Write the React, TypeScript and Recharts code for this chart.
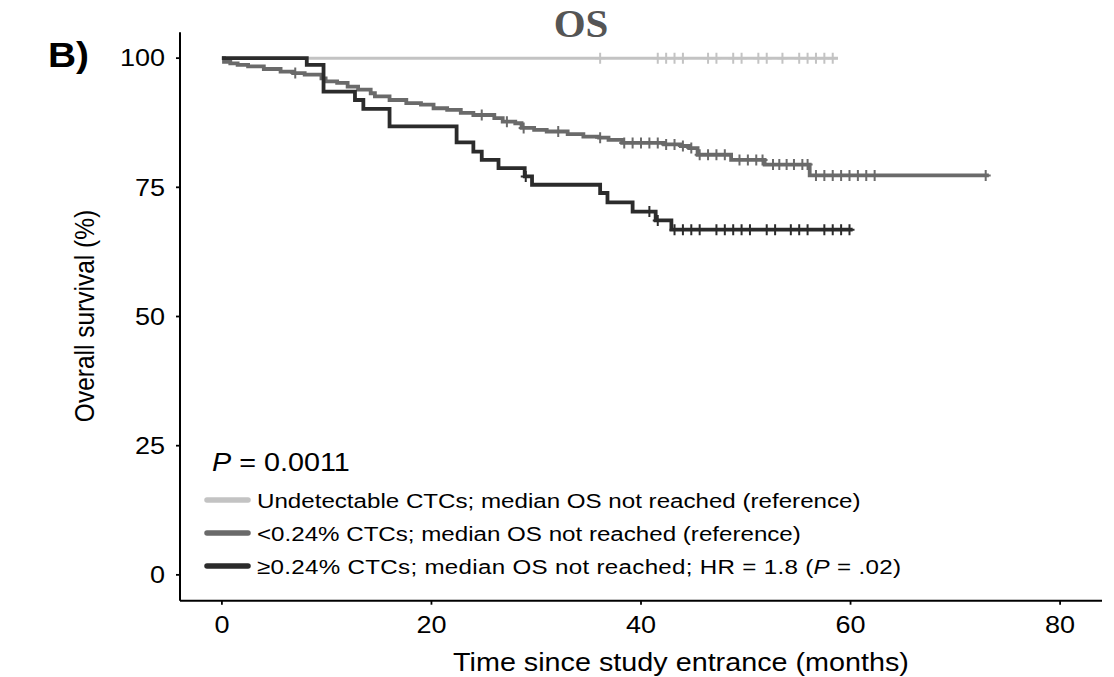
import React from 'react';
import { ComposedChart, Line, Scatter, XAxis, YAxis, Customized } from 'recharts';

if (typeof document !== 'undefined') {
  document.body.style.margin = '0';
  document.body.style.overflow = 'hidden';
}

const FONT = '"Liberation Sans", Arial, Helvetica, sans-serif';
const SX = 1.15;

const xTicks = [0, 20, 40, 60, 80];
const yTicks = [0, 25, 50, 75, 100];

const colors = { undet: '#c3c3c3', low: '#6a6a6a', high: '#2b2b2b' };

const legendLabels = [
  'Undetectable CTCs; median OS not reached (reference)',
  '<0.24% CTCs; median OS not reached (reference)',
  '≥0.24% CTCs; median OS not reached; HR = 1.8 (',
];

// Undetectable CTCs
const undetTimes = [0, 58.8];
const undetSurv = [100, 100];
const undetCensor = [36.1, 41.6, 42.4, 43.2, 44.0, 46.4, 47.2, 48.8, 49.6, 51.2, 52.0, 53.5, 55.1, 55.9, 56.7, 57.5, 58.3];

// <0.24% CTCs
const lowTimes = [0, 0.2, 0.8, 1.5, 2.5, 4.0, 5.6, 6.8, 7.9, 9.5, 9.9, 11.0, 12.0, 13.0, 14.2, 14.6, 16.0, 17.6, 19.0, 20.2, 21.5, 22.8, 24.0, 26.0, 26.8, 28.0, 28.6, 29.8, 31.0, 33.0, 34.5, 36.0, 36.9, 38.2, 42.2, 43.8, 44.6, 45.4, 48.6, 51.8, 56.1, 73.2];
const lowSurv = [100, 99.3, 99.0, 98.7, 98.4, 97.9, 97.4, 97.1, 96.8, 96.1, 95.5, 95.2, 94.5, 93.9, 93.2, 92.6, 91.9, 91.3, 91.0, 90.3, 90.0, 89.4, 89.0, 88.4, 87.7, 87.4, 86.5, 86.1, 85.8, 85.3, 84.8, 84.6, 84.2, 83.6, 83.3, 83.0, 82.6, 81.3, 80.3, 79.4, 77.3, 77.3];
const lowCensor = [7.0, 24.8, 27.2, 28.8, 32.1, 36.1, 38.4, 39.2, 40.0, 40.8, 41.6, 42.4, 43.2, 44.0, 44.8, 45.6, 46.4, 47.2, 48.0, 49.4, 50.2, 51.0, 51.6, 52.6, 53.2, 53.9, 54.6, 55.4, 55.9, 56.7, 57.5, 58.3, 59.1, 59.9, 60.7, 61.5, 62.3, 72.9];

// >=0.24% CTCs
const highTimes = [0, 8.1, 9.7, 12.7, 13.5, 16.0, 22.4, 24.0, 24.8, 26.4, 28.9, 29.6, 36.1, 36.8, 39.2, 41.4, 42.9, 60.2];
const highSurv = [100, 98.7, 93.5, 91.9, 90.2, 86.8, 83.7, 81.9, 80.3, 78.7, 77.1, 75.5, 73.9, 72.1, 70.3, 68.6, 66.8, 66.8];
const highCensor = [29.0, 40.8, 41.6, 43.2, 44.0, 44.8, 45.6, 47.2, 48.0, 48.8, 49.6, 50.4, 52.0, 52.8, 54.3, 55.1, 55.9, 57.5, 58.3, 59.1, 59.9];

const toSteps = (times: number[], surv: number[]) => times.map((t, i) => ({ t, s: surv[i] }));
const survAt = (times: number[], surv: number[], t: number) => {
  let v = surv[0];
  for (let i = 0; i < times.length; i++) if (times[i] <= t) v = surv[i];
  return v;
};
const toCensor = (times: number[], surv: number[], c: number[]) =>
  c.map((t) => ({ t, s: survAt(times, surv, t) }));

const undetData = toSteps(undetTimes, undetSurv);
const lowData = toSteps(lowTimes, lowSurv);
const highData = toSteps(highTimes, highSurv);
const undetC = toCensor(undetTimes, undetSurv, undetCensor);
const lowC = toCensor(lowTimes, lowSurv, lowCensor);
const highC = toCensor(highTimes, highSurv, highCensor);

const plus = (color: string) => (props: any) => {
  const { cx, cy } = props;
  if (cx == null || cy == null) return <g />;
  return (
    <g>
      <line x1={cx - 5} x2={cx + 5} y1={cy} y2={cy} stroke={color} strokeWidth={2} />
      <line x1={cx} x2={cx} y1={cy - 5.5} y2={cy + 5.5} stroke={color} strokeWidth={2} />
    </g>
  );
};

const XTick = (props: any) => {
  const { x, y, payload } = props;
  return (
    <text
      transform={`translate(${x},${y + 28.5}) scale(${SX},1)`}
      textAnchor="middle"
      fontFamily={FONT}
      fontSize={23.5}
      fill="#000"
    >
      {payload.value}
    </text>
  );
};

const YTick = (props: any) => {
  const { x, y, payload } = props;
  return (
    <text
      transform={`translate(${x - 11},${y + 8.3}) scale(${SX},1)`}
      textAnchor="end"
      fontFamily={FONT}
      fontSize={23.5}
      fill="#000"
    >
      {payload.value}
    </text>
  );
};

const Annotations = () => {
  const rows = [500, 533, 566];
  const keyColors = [colors.undet, colors.low, colors.high];
  return (
    <g>
      <text
        x={581}
        y={37}
        textAnchor="middle"
        fontFamily='"Liberation Serif", "Times New Roman", serif'
        fontWeight="bold"
        fontSize={41}
        fill="#555555"
      >
        OS
      </text>
      <text
        transform={`translate(48,67) scale(1.08,1)`}
        fontFamily={FONT}
        fontWeight="bold"
        fontSize={36}
        fill="#000"
      >
        B)
      </text>
      <text
        transform={`translate(94,316) rotate(-90) scale(1,${SX})`}
        textAnchor="middle"
        fontFamily={FONT}
        fontSize={24.5}
        fill="#000"
      >
        Overall survival (%)
      </text>
      <text
        transform={`translate(681,671) scale(${SX},1)`}
        textAnchor="middle"
        fontFamily={FONT}
        fontSize={25}
        fill="#000"
      >
        Time since study entrance (months)
      </text>
      <text
        transform={`translate(212,471) scale(${SX},1)`}
        fontFamily={FONT}
        fontSize={25}
        fill="#000"
      >
        <tspan fontStyle="italic">P</tspan>
        <tspan> = 0.0011</tspan>
      </text>
      {rows.map((cy, i) => (
        <g key={i}>
          <line
            x1={207}
            x2={248}
            y1={cy}
            y2={cy}
            stroke={keyColors[i]}
            strokeWidth={5.5}
            strokeLinecap="round"
          />
          {i < 2 ? (
            <text
              transform={`translate(257,${cy + 7.5}) scale(${SX},1)`}
              fontFamily={FONT}
              fontSize={21}
              fill="#000"
            >
              {legendLabels[i]}
            </text>
          ) : (
            <text
              transform={`translate(257,${cy + 7.5}) scale(${SX},1)`}
              fontFamily={FONT}
              fontSize={21}
              fill="#000"
              textLength={560}
              lengthAdjust="spacing"
            >
              <tspan>{legendLabels[2]}</tspan>
              <tspan fontStyle="italic">P</tspan>
              <tspan> = .02)</tspan>
            </text>
          )}
        </g>
      ))}
    </g>
  );
};

export default function App() {
  return (
    <div style={{ width: 1114, height: 677, background: '#fff' }}>
      <ComposedChart
        width={1114}
        height={677}
        margin={{ top: 32.3, right: 12, left: 0, bottom: 0 }}
      >
        <XAxis
          dataKey="t"
          type="number"
          domain={[-4, 84]}
          ticks={xTicks}
          allowDataOverflow
          height={76.3}
          tickSize={4}
          tickMargin={0}
          tick={<XTick />}
          axisLine={{ stroke: '#000', strokeWidth: 2 }}
          tickLine={{ stroke: '#000', strokeWidth: 1.8 }}
        />
        <YAxis
          dataKey="s"
          type="number"
          domain={[-5, 105]}
          ticks={yTicks}
          allowDataOverflow
          width={180}
          tickSize={4}
          tickMargin={0}
          tick={<YTick />}
          axisLine={{ stroke: '#000', strokeWidth: 2 }}
          tickLine={{ stroke: '#000', strokeWidth: 1.8 }}
        />
        <Line
          data={undetData}
          dataKey="s"
          type="stepAfter"
          stroke={colors.undet}
          strokeWidth={3}
          dot={false}
          activeDot={false}
          isAnimationActive={false}
        />
        <Scatter data={undetC} dataKey="s" shape={plus(colors.undet)} isAnimationActive={false} />
        <Line
          data={lowData}
          dataKey="s"
          type="stepAfter"
          stroke={colors.low}
          strokeWidth={3.8}
          dot={false}
          activeDot={false}
          isAnimationActive={false}
        />
        <Scatter data={lowC} dataKey="s" shape={plus(colors.low)} isAnimationActive={false} />
        <Line
          data={highData}
          dataKey="s"
          type="stepAfter"
          stroke={colors.high}
          strokeWidth={3.8}
          dot={false}
          activeDot={false}
          isAnimationActive={false}
        />
        <Scatter data={highC} dataKey="s" shape={plus(colors.high)} isAnimationActive={false} />
        <Customized component={<Annotations />} />
      </ComposedChart>
    </div>
  );
}
